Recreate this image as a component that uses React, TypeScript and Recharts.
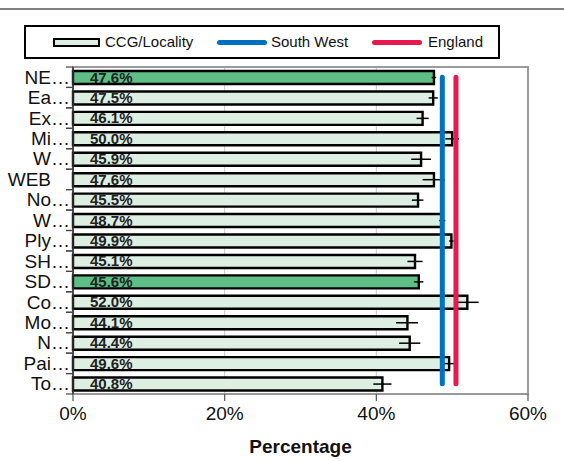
import React from "react";
import {
  ComposedChart,
  Bar,
  Line,
  Cell,
  XAxis,
  YAxis,
  CartesianGrid,
  ErrorBar,
  LabelList,
  ReferenceArea,
} from "recharts";

const areas = ["NE…", "Ea…", "Ex…", "Mi…", "W…", "WEB", "No…", "W…", "Ply…", "SH…", "SD…", "Co…", "Mo…", "N…", "Pai…", "To…"];
const values = [47.6, 47.5, 46.1, 50.0, 45.9, 47.6, 45.5, 48.7, 49.9, 45.1, 45.6, 52.0, 44.1, 44.4, 49.6, 40.8];
const lower = [47.3, 46.9, 45.3, 49.1, 44.6, 46.1, 44.7, 48.3, 49.6, 44.1, 45.0, 50.5, 42.6, 43.0, 48.5, 39.6];
const upper = [47.9, 48.1, 46.9, 50.9, 47.2, 49.0, 46.2, 49.1, 50.2, 46.1, 46.2, 53.5, 45.5, 45.8, 50.7, 42.0];
const highlighted = [true, false, false, false, false, false, false, false, false, false, true, false, false, false, false, false];
const southWest = 48.7;
const england = 50.5;
const xTicks = [0, 20, 40, 60];

const rows = areas.map((name, i) => ({
  key: i,
  name,
  value: values[i],
  err: [values[i] - lower[i], upper[i] - values[i]],
  sw: southWest,
  eng: england,
}));

const FONT = "Arial, 'Liberation Sans', sans-serif";
const LIGHT = "#ddefe2";
const DARK = "#5fbe86";
const BLUE = "#0070c0";
const RED = "#e8194f";

const HALF_BAND = 10.2;

// labels that were not shortened keep the room of the ellipsis, as in the original
const CategoryTick = (props: any) => {
  const { x, y, payload } = props;
  const ax = x + 3;
  const label = String(payload.value);
  const shift = label.endsWith("…") ? 0 : 19;
  return (
    <g>
      <line x1={ax - 7} x2={ax} y1={y - HALF_BAND} y2={y - HALF_BAND} stroke="#444" strokeWidth={1.2} />
      <line x1={ax - 7} x2={ax} y1={y + HALF_BAND} y2={y + HALF_BAND} stroke="#444" strokeWidth={1.2} />
      <text x={x - shift} y={y} textAnchor="end" dominantBaseline="central" fontSize={19} fill="#111" fontFamily={FONT}>
        {label}
      </text>
    </g>
  );
};

const ValueLabel = (props: any) => {
  const { x, y, height, value } = props;
  return (
    <text x={x + 17} y={y + height - 1.5} fontSize={15} fontWeight="bold" fill="#222" fontFamily={FONT}>
      {`${Number(value).toFixed(1)}%`}
    </text>
  );
};

const LegendBox = () => (
  <div
    style={{
      position: "absolute",
      left: 24,
      top: 25,
      width: 472,
      height: 30,
      border: "2px solid #000",
      fontFamily: FONT,
      fontSize: 15,
      color: "#111",
    }}
  >
    <div style={{ position: "absolute", left: 27, top: 11, width: 43, height: 5, border: "2px solid #000", background: LIGHT }} />
    <span style={{ position: "absolute", left: 79, top: 6 }}>CCG/Locality</span>
    <div style={{ position: "absolute", left: 191, top: 13, width: 50, height: 5, borderRadius: 3, background: BLUE }} />
    <span style={{ position: "absolute", left: 245, top: 6 }}>South West</span>
    <div style={{ position: "absolute", left: 346, top: 13, width: 50, height: 5, borderRadius: 3, background: RED }} />
    <span style={{ position: "absolute", left: 402, top: 6 }}>England</span>
  </div>
);

export default function App() {
  return (
    <div style={{ position: "absolute", left: 0, top: 0, width: 564, height: 461, background: "#fff", overflow: "hidden" }}>
      <div style={{ position: "absolute", left: 0, top: 8, width: 564, height: 2, background: "#808080" }} />
      <LegendBox />
      <div style={{ position: "absolute", left: 0, top: 0 }}>
        <ComposedChart
          width={564}
          height={461}
          data={rows}
          layout="vertical"
          margin={{ top: 67, right: 36, bottom: 0, left: 0 }}
          barCategoryGap={0}
        >
          <CartesianGrid horizontal={false} stroke="#c8c8c8" strokeWidth={1} />
          <ReferenceArea x1={0} x2={60} fill="none" stroke="#9a9a9a" strokeWidth={2} ifOverflow="visible" />
          <XAxis
            type="number"
            domain={[0, 60]}
            ticks={xTicks}
            tickFormatter={(v: number) => `${v}%`}
            height={67}
            tickSize={7}
            tickMargin={6}
            axisLine={{ stroke: "#9a9a9a", strokeWidth: 2 }}
            tickLine={{ stroke: "#555", strokeWidth: 1.2 }}
            tick={{ fontSize: 19, fill: "#111", fontFamily: FONT }}
            label={{
              value: "Percentage",
              position: "insideBottom",
              offset: 8,
              style: { fontSize: 19, fontWeight: "bold", fill: "#111", fontFamily: FONT },
            }}
          />
          <YAxis
            type="category"
            dataKey="name"
            width={73}
            tickSize={0}
            tickMargin={3}
            interval={0}
            axisLine={{ stroke: "#333", strokeWidth: 1.5 }}
            tickLine={false}
            tick={<CategoryTick />}
          />
          <Bar dataKey="value" barSize={13} stroke="#000" strokeWidth={2.4} isAnimationActive={false}>
            {rows.map((r, i) => (
              <Cell key={r.key} fill={highlighted[i] ? DARK : LIGHT} />
            ))}
            <ErrorBar dataKey="err" direction="x" width={0.01} stroke="#000" strokeWidth={1.5} />
            <LabelList dataKey="value" content={<ValueLabel />} />
          </Bar>
          <Line dataKey="sw" stroke={BLUE} strokeWidth={5} strokeLinecap="round" dot={false} isAnimationActive={false} />
          <Line dataKey="eng" stroke={RED} strokeWidth={5} strokeLinecap="round" dot={false} isAnimationActive={false} />
        </ComposedChart>
      </div>
    </div>
  );
}
